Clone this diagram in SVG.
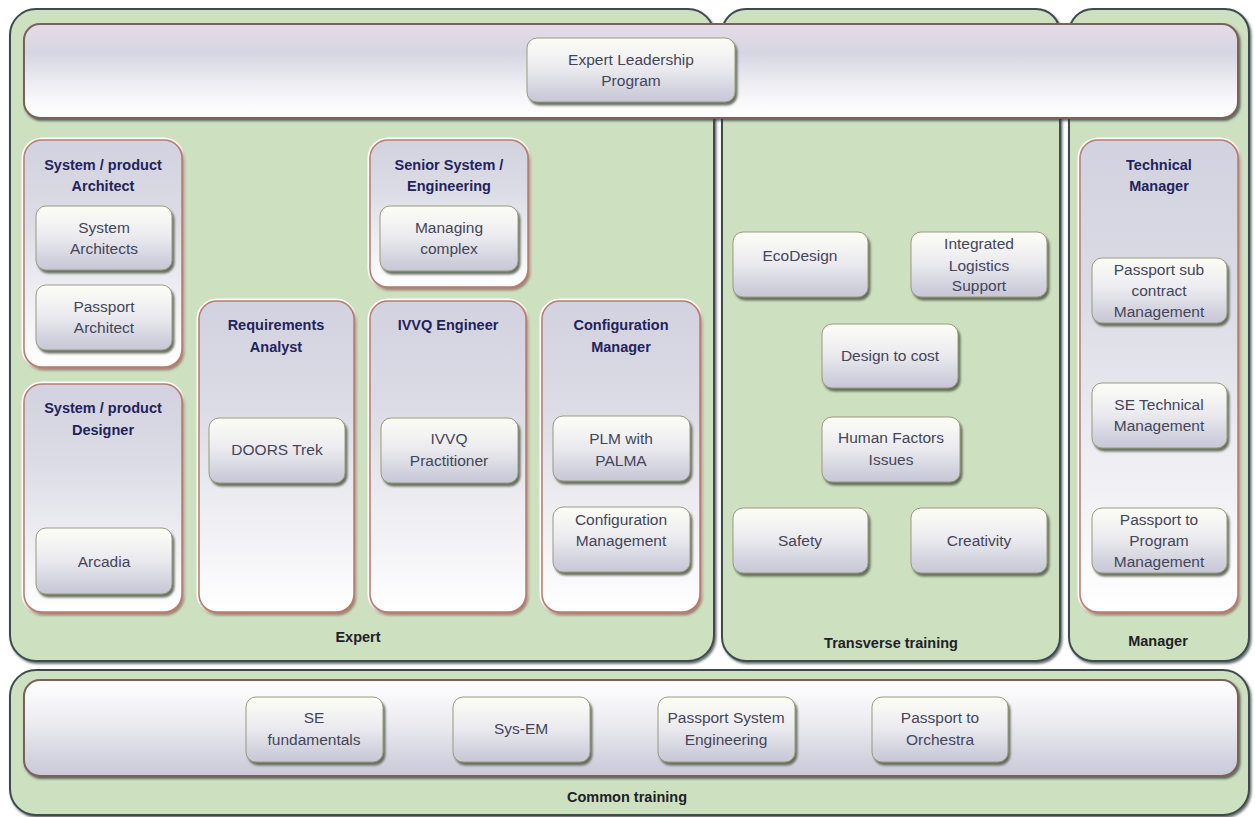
<svg xmlns="http://www.w3.org/2000/svg" width="1255" height="817" viewBox="0 0 1255 817">
  <defs>
    <linearGradient id="gBtn" x1="0" y1="0" x2="0" y2="1">
      <stop offset="0" stop-color="#fdfdf6"/>
      <stop offset="0.45" stop-color="#ececf0"/>
      <stop offset="1" stop-color="#c6c6d6"/>
    </linearGradient>
    <linearGradient id="gBox" x1="0" y1="0" x2="0" y2="1">
      <stop offset="0" stop-color="#d2d2e0"/>
      <stop offset="0.35" stop-color="#dcdce6"/>
      <stop offset="1" stop-color="#ffffff"/>
    </linearGradient>
    <linearGradient id="gTop" x1="0" y1="0" x2="0" y2="1">
      <stop offset="0" stop-color="#e4dce8"/>
      <stop offset="0.3" stop-color="#d6d6e2"/>
      <stop offset="0.8" stop-color="#f8f8fa"/>
      <stop offset="1" stop-color="#ffffff"/>
    </linearGradient>
    <linearGradient id="gBottom" x1="0" y1="0" x2="0" y2="1">
      <stop offset="0" stop-color="#ffffff"/>
      <stop offset="0.4" stop-color="#eeeef2"/>
      <stop offset="1" stop-color="#c8c8d8"/>
    </linearGradient>
    <filter id="shBtn" x="-10%" y="-10%" width="125%" height="130%">
      <feDropShadow dx="2" dy="3" stdDeviation="1" flood-color="#5a6450" flood-opacity="0.9"/>
    </filter>
    <filter id="shBox" x="-10%" y="-10%" width="125%" height="130%">
      <feDropShadow dx="1.5" dy="2.5" stdDeviation="1" flood-color="#8a5a50" flood-opacity="0.8"/>
    </filter>
    <filter id="shPanel" x="-5%" y="-5%" width="110%" height="110%">
      <feDropShadow dx="1.5" dy="2" stdDeviation="1" flood-color="#2a3438" flood-opacity="0.7"/>
    </filter>
  </defs>
  <style>
    .panel { fill: #cde0c0; stroke: #3e4c50; stroke-width: 2; }
    .band-top { fill: url(#gTop); stroke: #7a6258; stroke-width: 2; }
    .band-bot { fill: url(#gBottom); stroke: #7a6258; stroke-width: 2; }
    .box { fill: url(#gBox); stroke: #b87c6c; stroke-width: 1.5; }
    .halo { fill: none; stroke: #ffffff; stroke-width: 5; }
    .btn { fill: url(#gBtn); stroke: #9a9a80; stroke-width: 1; }
    .t { font-family: "Liberation Sans", Arial, sans-serif; font-size: 15.5px; fill: #45455a; text-anchor: middle; }
    .h { font-family: "Liberation Sans", Arial, sans-serif; font-size: 14.5px; font-weight: bold; fill: #23235a; text-anchor: middle; }
    .p { font-family: "Liberation Sans", Arial, sans-serif; font-size: 14.5px; font-weight: bold; fill: #1e2228; text-anchor: middle; }
  </style>

  <rect width="1255" height="817" fill="#ffffff"/>

  <!-- main panels -->
  <g id="panel-expert">
    <rect class="panel" filter="url(#shPanel)" x="10" y="9" width="704" height="652" rx="26"/>
    <text class="p" x="358" y="642">Expert</text>
  </g>
  <g id="panel-transverse">
    <rect class="panel" filter="url(#shPanel)" x="722" y="9" width="338" height="652" rx="24"/>
    <text class="p" x="891" y="648">Transverse training</text>
  </g>
  <g id="panel-manager">
    <rect class="panel" filter="url(#shPanel)" x="1069" y="9" width="180" height="652" rx="24"/>
    <text class="p" x="1158" y="646">Manager</text>
  </g>
  <g id="panel-common">
    <rect class="panel" filter="url(#shPanel)" x="10" y="670" width="1239" height="145" rx="26"/>
    <text class="p" x="627" y="802">Common training</text>
  </g>

  <!-- full-width bands -->
  <g id="band-leadership">
    <rect class="band-top" filter="url(#shPanel)" x="24" y="24" width="1214" height="94" rx="16"/>
  </g>
  <g id="band-common">
    <rect class="band-bot" filter="url(#shPanel)" x="24" y="680" width="1214" height="96" rx="16"/>
  </g>

  <!-- role containers -->
  <g id="role-architect">
    <rect class="halo" x="24" y="140" width="158" height="227" rx="18"/>
    <rect class="box" filter="url(#shBox)" x="24" y="140" width="158" height="227" rx="18"/>
    <text class="h" x="103" y="170">System / product</text>
    <text class="h" x="103" y="191">Architect</text>
  </g>
  <g id="role-designer">
    <rect class="halo" x="24" y="384" width="158" height="228" rx="18"/>
    <rect class="box" filter="url(#shBox)" x="24" y="384" width="158" height="228" rx="18"/>
    <text class="h" x="103" y="413">System / product</text>
    <text class="h" x="103" y="435">Designer</text>
  </g>
  <g id="role-requirements">
    <rect class="halo" x="199" y="301" width="155" height="311" rx="18"/>
    <rect class="box" filter="url(#shBox)" x="199" y="301" width="155" height="311" rx="18"/>
    <text class="h" x="276" y="330">Requirements</text>
    <text class="h" x="276" y="352">Analyst</text>
  </g>
  <g id="role-senior">
    <rect class="halo" x="370" y="140" width="158" height="147" rx="18"/>
    <rect class="box" filter="url(#shBox)" x="370" y="140" width="158" height="147" rx="18"/>
    <text class="h" x="449" y="170">Senior System /</text>
    <text class="h" x="449" y="191">Engineering</text>
  </g>
  <g id="role-ivvq">
    <rect class="halo" x="370" y="301" width="156" height="311" rx="18"/>
    <rect class="box" filter="url(#shBox)" x="370" y="301" width="156" height="311" rx="18"/>
    <text class="h" x="448" y="330">IVVQ Engineer</text>
  </g>
  <g id="role-configuration">
    <rect class="halo" x="542" y="301" width="158" height="311" rx="18"/>
    <rect class="box" filter="url(#shBox)" x="542" y="301" width="158" height="311" rx="18"/>
    <text class="h" x="621" y="330">Configuration</text>
    <text class="h" x="621" y="352">Manager</text>
  </g>
  <g id="role-technical-manager">
    <rect class="halo" x="1080" y="140" width="158" height="472" rx="18"/>
    <rect class="box" filter="url(#shBox)" x="1080" y="140" width="158" height="472" rx="18"/>
    <text class="h" x="1159" y="170">Technical</text>
    <text class="h" x="1159" y="191">Manager</text>
  </g>

  <!-- training modules -->
  <g id="mod-leadership">
    <rect class="btn" filter="url(#shBtn)" x="527" y="38" width="208" height="64" rx="10"/>
    <text class="t" x="631" y="65">Expert Leadership</text>
    <text class="t" x="631" y="86">Program</text>
  </g>
  <g id="mod-system-architects">
    <rect class="btn" filter="url(#shBtn)" x="36" y="206" width="136" height="64" rx="10"/>
    <text class="t" x="104" y="233">System</text>
    <text class="t" x="104" y="254">Architects</text>
  </g>
  <g id="mod-passport-architect">
    <rect class="btn" filter="url(#shBtn)" x="36" y="285" width="136" height="65" rx="10"/>
    <text class="t" x="104" y="312">Passport</text>
    <text class="t" x="104" y="333">Architect</text>
  </g>
  <g id="mod-arcadia">
    <rect class="btn" filter="url(#shBtn)" x="36" y="528" width="136" height="66" rx="10"/>
    <text class="t" x="104" y="567">Arcadia</text>
  </g>
  <g id="mod-doors">
    <rect class="btn" filter="url(#shBtn)" x="209" y="418" width="136" height="65" rx="10"/>
    <text class="t" x="277" y="455">DOORS Trek</text>
  </g>
  <g id="mod-managing-complex">
    <rect class="btn" filter="url(#shBtn)" x="380" y="206" width="138" height="65" rx="10"/>
    <text class="t" x="449" y="233">Managing</text>
    <text class="t" x="449" y="254">complex</text>
  </g>
  <g id="mod-ivvq">
    <rect class="btn" filter="url(#shBtn)" x="381" y="418" width="137" height="65" rx="10"/>
    <text class="t" x="449" y="444">IVVQ</text>
    <text class="t" x="449" y="466">Practitioner</text>
  </g>
  <g id="mod-plm">
    <rect class="btn" filter="url(#shBtn)" x="553" y="416" width="137" height="65" rx="10"/>
    <text class="t" x="621" y="444">PLM with</text>
    <text class="t" x="621" y="466">PALMA</text>
  </g>
  <g id="mod-config-mgmt">
    <rect class="btn" filter="url(#shBtn)" x="553" y="507" width="137" height="65" rx="10"/>
    <text class="t" x="621" y="525">Configuration</text>
    <text class="t" x="621" y="546">Management</text>
  </g>
  <g id="mod-ecodesign">
    <rect class="btn" filter="url(#shBtn)" x="733" y="232" width="135" height="65" rx="10"/>
    <text class="t" x="800" y="261">EcoDesign</text>
  </g>
  <g id="mod-ils">
    <rect class="btn" filter="url(#shBtn)" x="911" y="232" width="136" height="65" rx="10"/>
    <text class="t" x="979" y="249">Integrated</text>
    <text class="t" x="979" y="271">Logistics</text>
    <text class="t" x="979" y="291">Support</text>
  </g>
  <g id="mod-design-to-cost">
    <rect class="btn" filter="url(#shBtn)" x="822" y="324" width="136" height="64" rx="10"/>
    <text class="t" x="890" y="361">Design to cost</text>
  </g>
  <g id="mod-human-factors">
    <rect class="btn" filter="url(#shBtn)" x="822" y="417" width="138" height="65" rx="10"/>
    <text class="t" x="891" y="443">Human Factors</text>
    <text class="t" x="891" y="465">Issues</text>
  </g>
  <g id="mod-safety">
    <rect class="btn" filter="url(#shBtn)" x="733" y="508" width="135" height="65" rx="10"/>
    <text class="t" x="800" y="546">Safety</text>
  </g>
  <g id="mod-creativity">
    <rect class="btn" filter="url(#shBtn)" x="911" y="508" width="136" height="65" rx="10"/>
    <text class="t" x="979" y="546">Creativity</text>
  </g>
  <g id="mod-subcontract">
    <rect class="btn" filter="url(#shBtn)" x="1092" y="258" width="135" height="65" rx="10"/>
    <text class="t" x="1159" y="275">Passport sub</text>
    <text class="t" x="1159" y="296">contract</text>
    <text class="t" x="1159" y="317">Management</text>
  </g>
  <g id="mod-se-technical">
    <rect class="btn" filter="url(#shBtn)" x="1092" y="383" width="135" height="65" rx="10"/>
    <text class="t" x="1159" y="410">SE Technical</text>
    <text class="t" x="1159" y="431">Management</text>
  </g>
  <g id="mod-program">
    <rect class="btn" filter="url(#shBtn)" x="1092" y="508" width="135" height="65" rx="10"/>
    <text class="t" x="1159" y="525">Passport to</text>
    <text class="t" x="1159" y="546">Program</text>
    <text class="t" x="1159" y="567">Management</text>
  </g>
  <g id="mod-se-fundamentals">
    <rect class="btn" filter="url(#shBtn)" x="246" y="697" width="137" height="65" rx="10"/>
    <text class="t" x="314" y="723">SE</text>
    <text class="t" x="314" y="745">fundamentals</text>
  </g>
  <g id="mod-sys-em">
    <rect class="btn" filter="url(#shBtn)" x="453" y="697" width="137" height="65" rx="10"/>
    <text class="t" x="521" y="734">Sys-EM</text>
  </g>
  <g id="mod-passport-se">
    <rect class="btn" filter="url(#shBtn)" x="658" y="697" width="137" height="65" rx="10"/>
    <text class="t" x="726" y="723">Passport System</text>
    <text class="t" x="726" y="745">Engineering</text>
  </g>
  <g id="mod-orchestra">
    <rect class="btn" filter="url(#shBtn)" x="872" y="697" width="136" height="65" rx="10"/>
    <text class="t" x="940" y="723">Passport to</text>
    <text class="t" x="940" y="745">Orchestra</text>
  </g>

  <!-- no connectors in this layout -->
  <g id="connectors"/>
</svg>
